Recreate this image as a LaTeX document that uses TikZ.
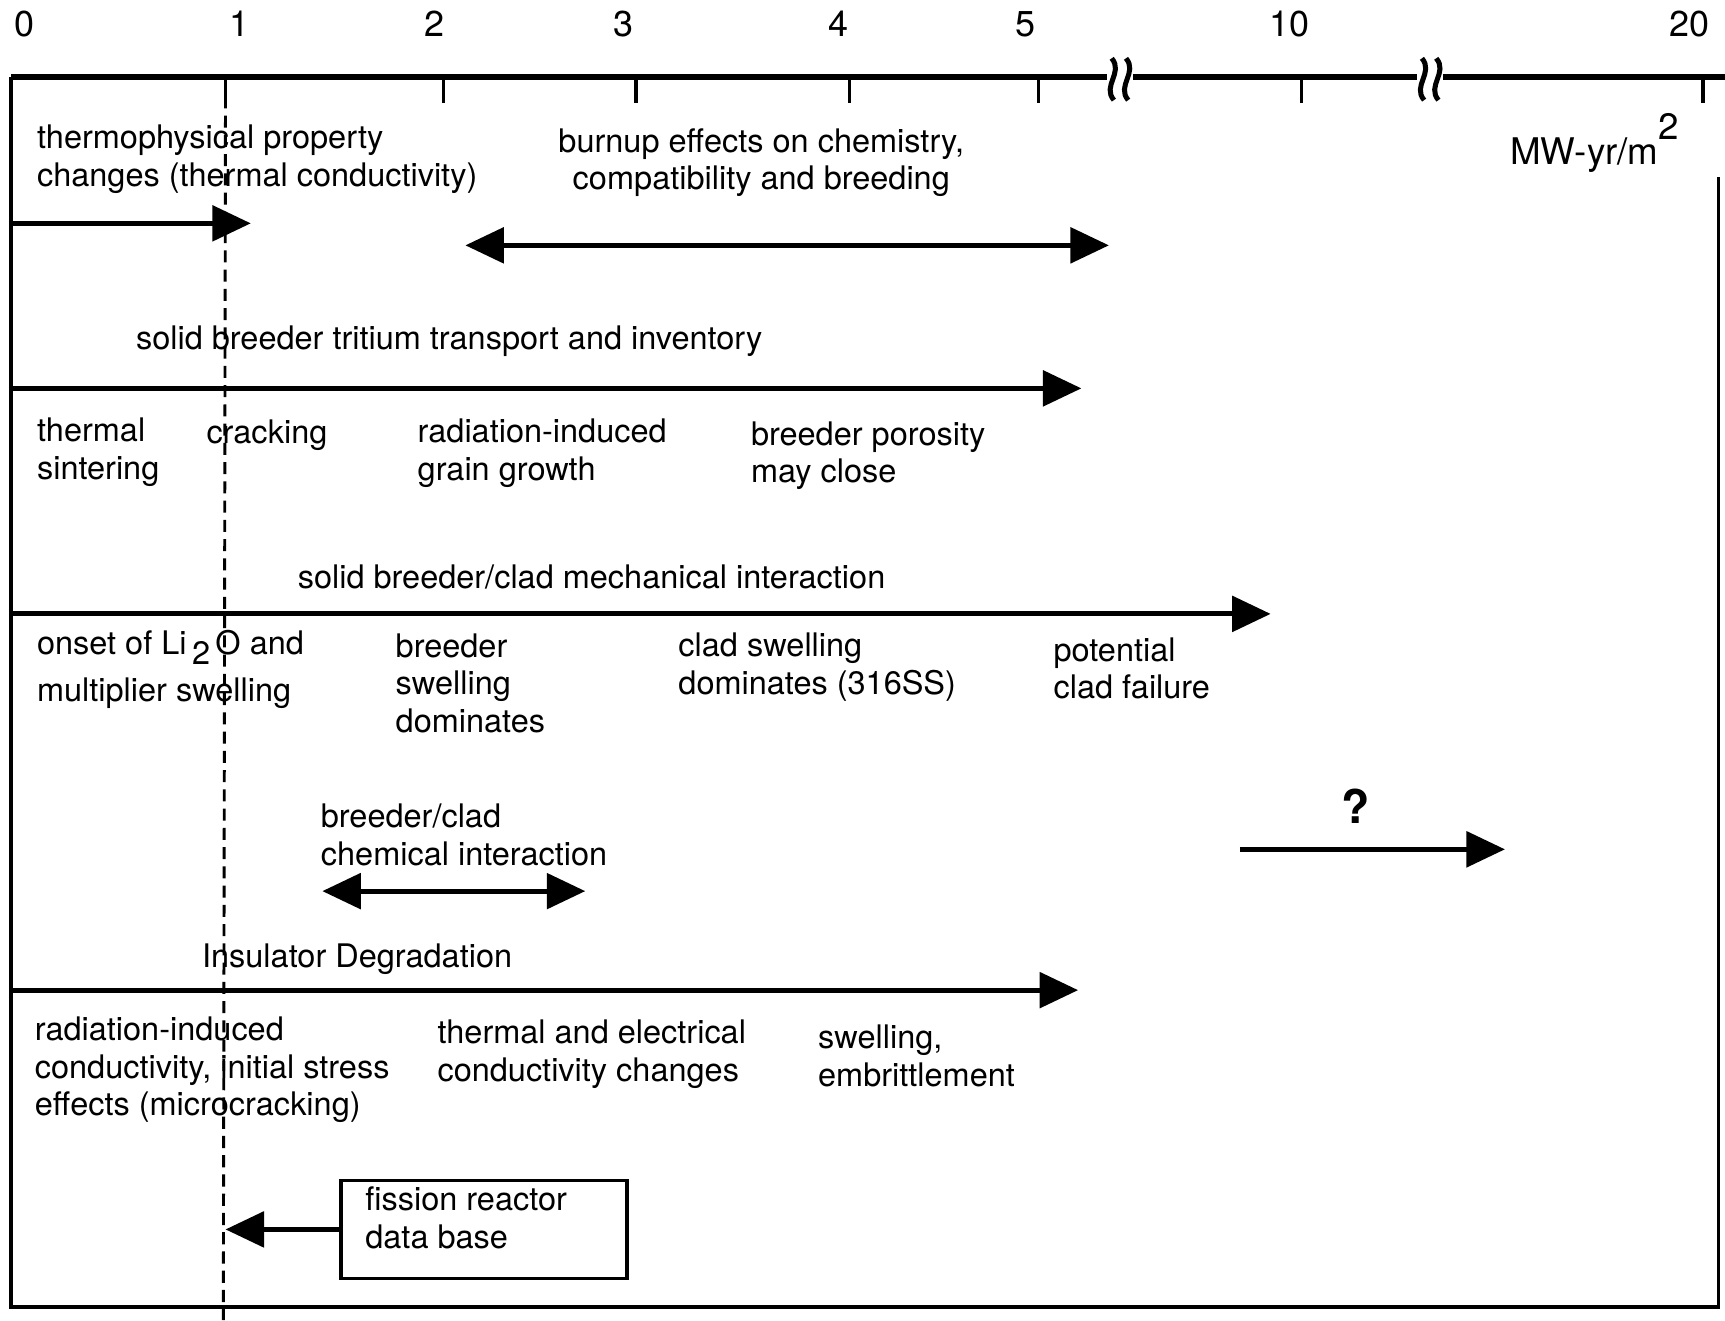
\documentclass[tikz,border=0pt]{standalone}
\usepackage{fontspec}
\setmainfont{TeX Gyre Heros}
\usetikzlibrary{arrows.meta,positioning}
\tikzset{
  >={Triangle[length=3.5mm,width=3.2mm]},
  axis/.style={line width=1.5pt},
  frame/.style={line width=0.9pt},
  tick/.style={line width=0.9pt},
  span/.style={line width=1.3pt, ->},
  both/.style={line width=1.3pt, <->},
  refline/.style={line width=0.75pt, dash pattern=on 1.1mm off 0.65mm},
  lbl/.style={anchor=west, inner sep=0pt, align=left,
    font=\fontsize{8.4}{9.7}\selectfont},
  num/.style={inner sep=0pt, font=\fontsize{9.3}{9.3}\selectfont},
  pics/brk/.style={
    code={
      \fill[white] (-0.12,-0.1) rectangle (0.12,0.1);
      \foreach \dx in {-0.065,0.065}
        \draw[line width=1.3pt] (\dx-0.01,0.19) .. controls (\dx+0.1,0.06) and (\dx-0.1,-0.06) .. (\dx+0.01,-0.19);
    }
  }
}
\begin{document}
\begin{tikzpicture}
    \useasboundingbox (0,0) rectangle (15.68,-12.00);
    \coordinate (d1) at (2.05,-0.70);
    \coordinate (d2) at (2.03,-12.00);

    % axis and frame
    \draw[axis] (0.10,-0.70) -- (15.68,-0.70);
    \draw[frame] (0.10,-0.70) -- (0.10,-11.88) -- (15.62,-11.88) -- (15.62,-1.61);
    \pic at (10.18,-0.72) {brk};
    \pic at (13.00,-0.72) {brk};
    \node[num] (t0) at (0.22,-0.22) {0};
    \foreach \tx/\lx/\v in {2.05/2.18/1, 4.03/3.95/2, 5.78/5.67/3, 7.72/7.62/4,
                            9.44/9.32/5, 11.83/11.72/10, 15.48/15.36/20} {
      \draw[tick] (\tx,-0.70) -- ++(0,-0.24);
      \node[num] (t\v) at (\lx,-0.22) {\v};
    }
    \node[lbl, font=\fontsize{9.5}{9.5}\selectfont] (unit) at (13.72,-1.30) {MW-yr/m\raisebox{6.5pt}{2}};

    % 1 MW-yr/m2 line
    \draw[refline] (d1) -- (d2);

    % burnup effects
    \node[lbl] (thermo) at (0.33,-1.445) {thermophysical property\\changes (thermal conductivity)};
    \draw[span] (0.10,-2.03) -- (2.28,-2.03);
    \node[lbl, anchor=center, align=center] (burnup) at (6.92,-1.48) {burnup effects on chemistry,\\compatibility and breeding};
    \draw[both] (4.23,-2.23) -- (10.08,-2.23);

    % tritium
    \node[lbl] (tritium) at (1.23,-3.10) {solid breeder tritium transport and inventory};
    \draw[span] (0.10,-3.53) -- (9.83,-3.53);
    \node[lbl] (sinter) at (0.33,-4.11) {thermal\\sintering};
    \node[lbl] (crack) at (1.87,-3.96) {cracking};
    \node[lbl] (grain) at (3.79,-4.12) {radiation-induced\\grain growth};
    \node[lbl] (poros) at (6.82,-4.14) {breeder porosity\\may close};

    % mechanical interaction
    \node[lbl] (mech) at (2.70,-5.24) {solid breeder/clad mechanical interaction};
    \draw[span] (0.10,-5.58) -- (11.55,-5.58);
    \node[lbl] (onset) at (0.33,-6.085) {onset of Li\,\raisebox{-0.6ex}{2}\,O and\\[2.5pt]multiplier swelling};
    \node[lbl] (bswell) at (3.59,-6.21) {breeder\\swelling\\dominates};
    \node[lbl] (cswell) at (6.16,-6.065) {clad swelling\\dominates (316SS)};
    \node[lbl] (failure) at (9.57,-6.075) {potential\\clad failure};

    % chemical interaction
    \node[lbl] (chem) at (2.91,-7.59) {breeder/clad\\chemical interaction};
    \draw[both] (2.93,-8.10) -- (5.32,-8.10);
    \node[inner sep=0pt, font=\fontsize{12}{12}\selectfont\bfseries] (qmark) at (12.32,-7.33) {?};
    \draw[span] (11.27,-7.72) -- (13.68,-7.72);

    % insulator
    \node[lbl] (insul) at (1.83,-8.72) {Insulator Degradation};
    \draw[span] (0.10,-9.00) -- (9.80,-9.00);
    \node[lbl] (rind) at (0.31,-9.725) {radiation-induced\\conductivity, initial stress\\effects (microcracking)};
    \node[lbl] (tecc) at (3.97,-9.58) {thermal and electrical\\conductivity changes};
    \node[lbl] (embr) at (7.43,-9.60) {swelling,\\embrittlement};

    % fission data
    \node[draw, frame, minimum width=2.60cm, minimum height=0.89cm] (fiss) at (4.40,-11.175) {};
    \node[lbl, below right=0.07cm and 0.23cm of fiss.north west] (fisst) {fission reactor\\data base};
    \draw[span] (fiss.west) -- (fiss.west -| d1);
\end{tikzpicture}
\end{document}
